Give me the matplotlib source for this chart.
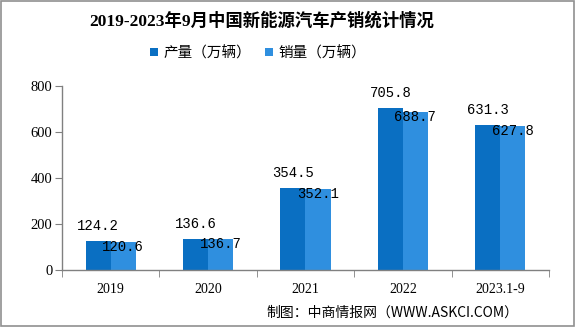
import matplotlib
matplotlib.use('Agg')
import matplotlib.pyplot as plt
from matplotlib.patches import Rectangle
import numpy as np

# data
years = ['2019', '2020', '2021', '2022', '2023.1-9']
production = [124.2, 136.6, 354.5, 705.8, 631.3]
sales = [120.6, 136.7, 352.1, 688.7, 627.8]
labels = ['产量（万辆）', '销量（万辆）']
colors = ['#0A6FC2', '#2F8FDF']

cjk = ['Noto Sans CJK SC', 'DejaVu Sans']
serif = ['Liberation Serif', 'Noto Sans CJK SC']

fig = plt.figure(figsize=(5.76, 3.27), dpi=100)
ax = fig.add_axes([0.1076, 0.1743, 0.8455, 0.5627])

x = np.arange(len(years))
w = 0.257
b1 = ax.bar(x - w / 2, production, w, color=colors[0], label=labels[0])
b2 = ax.bar(x + w / 2, sales, w, color=colors[1], label=labels[1])

for xi, v in zip(x, production):
    ax.annotate('%.1f' % v, (xi - w / 2, v), xytext=(0, 15), textcoords='offset pixels',
                ha='center', va='center', fontsize=10, family='Liberation Mono')
for xi, v in zip(x, sales):
    ax.annotate('%.1f' % v, (xi + w / 2, v), xytext=(0, -5), textcoords='offset pixels',
                ha='center', va='center', fontsize=10, family='Liberation Mono')

ax.set_xlim(-0.5, len(years) - 0.5)
ax.set_ylim(0, 800)
ax.set_yticks([0, 200, 400, 600, 800])
ax.set_xticks(x)
ax.set_xticklabels(years)
ax.set_xticks(np.arange(-0.5, len(years)), minor=True)
ax.tick_params(axis='x', which='major', length=0, pad=9, labelsize=10)
ax.tick_params(axis='x', which='minor', length=5, color='#808080')
ax.tick_params(axis='y', length=5, color='#808080', labelsize=10.5, pad=2)
for t in ax.get_xticklabels() + ax.get_yticklabels():
    t.set_family(serif)

for s in ['top', 'right']:
    ax.spines[s].set_visible(False)
for s in ['left', 'bottom']:
    ax.spines[s].set_color('#808080')
    ax.spines[s].set_linewidth(1.0)

fig.text(0.455, 0.936, '2019-2023年9月中国新能源汽车产销统计情况', ha='center', va='center',
         fontsize=12.5, fontweight='bold', family=serif)

leg = fig.legend(handles=[b1, b2], labels=labels, loc='center', bbox_to_anchor=(0.448, 0.838),
                 ncol=2, frameon=False, prop={'family': cjk, 'size': 10.5},
                 handlelength=0.55, handleheight=0.55, handletextpad=0.4, columnspacing=0.9)

fig.text(0.9, 0.043, '制图：中商情报网（WWW.ASKCI.COM）', ha='right', va='center',
         fontsize=10, family=cjk)

fig.patches.append(Rectangle((0.001, 0.003), 0.996, 0.994, transform=fig.transFigure,
                             fill=False, edgecolor='#909090', linewidth=1.2))

fig.savefig('out.png', dpi=100)
